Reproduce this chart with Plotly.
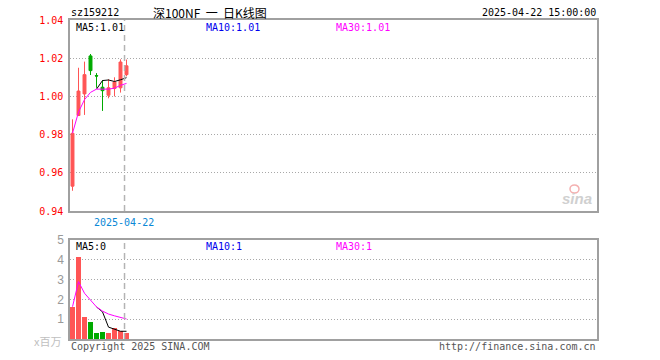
import plotly.graph_objects as go

# ---- data ----
idx = list(range(10))
opens  = [0.9530, 0.9900, 1.0013, 1.0212, 1.01085, 1.0048, 1.0006, 1.0041, 1.0045, 1.0114]
highs  = [0.9880, 1.0150, 1.0182, 1.0222, 1.0122, 1.0085, 1.0090, 1.0100, 1.0194, 1.0193]
lows   = [0.9506, 0.9897, 0.9903, 1.0112, 1.0045, 0.9924, 0.9990, 1.0000, 1.0020, 1.0105]
closes = [0.9807, 1.0028, 1.0114, 1.0135, 1.0107, 1.0030, 1.0045, 1.0075, 1.0180, 1.0160]
ma5  = [None, None, None, None, 1.0038, 1.0083, 1.0086, 1.0078, 1.0087, 1.0098]
ma10 = [None, None, None, None, None, None, None, None, None, 1.0068]
ma30 = [0.9807, 0.9918, 0.9983, 1.0021, 1.0038, 1.0037, 1.0038, 1.0043, 1.0058, 1.0068]

volumes = [1.63, 4.16, 1.13, 0.87, 0.32, 0.37, 0.32, 0.56, 0.40, 0.32]
vol_ma5  = [None, None, None, None, 1.62, 1.37, 0.60, 0.49, 0.39, 0.39]
vol_ma10 = [None, None, None, None, None, None, None, None, None, 1.01]
vol_ma30 = [1.63, 2.90, 2.31, 1.95, 1.62, 1.41, 1.26, 1.17, 1.08, 1.01]

price_ticks = [0.94, 0.96, 0.98, 1.00, 1.02, 1.04]
price_labels = ["0.94", "0.96", "0.98", "1.00", "1.02", "1.04"]
vol_ticks = [1, 2, 3, 4, 5]
vol_labels = ["1", "2", "3", "4", "5"]
date_marker = 8.67
date_label = "2025-04-22"

RED = "#ff5555"
GREEN = "#00aa00"
MONO = "DejaVu Sans Mono"

W, H = 660, 360
L, R, T, B = 70, 597, 20, 339
def px(x):
    return (x - L) / (R - L)
def py(y):
    return (B - y) / (B - T)

fig = go.Figure()

fig.add_trace(go.Candlestick(
    x=idx, open=opens, high=highs, low=lows, close=closes,
    increasing=dict(line=dict(color=RED, width=1), fillcolor=RED),
    decreasing=dict(line=dict(color=GREEN, width=1), fillcolor=GREEN),
    xaxis="x", yaxis="y", showlegend=False, hoverinfo="skip"))
fig.add_trace(go.Scatter(x=idx, y=ma5, mode="lines", line=dict(color="black", width=1),
                         xaxis="x", yaxis="y", showlegend=False))
fig.add_trace(go.Scatter(x=idx, y=ma10, mode="lines", line=dict(color="#0000ee", width=1),
                         xaxis="x", yaxis="y", showlegend=False))
fig.add_trace(go.Scatter(x=idx, y=ma30, mode="lines", line=dict(color="#ff00ff", width=1),
                         xaxis="x", yaxis="y", showlegend=False))

bar_colors = [RED if c > o else GREEN for o, c in zip(opens, closes)]
fig.add_trace(go.Bar(x=idx, y=volumes, width=0.83, marker=dict(color=bar_colors, line=dict(width=0)),
                     xaxis="x2", yaxis="y2", showlegend=False))
fig.add_trace(go.Scatter(x=idx, y=vol_ma5, mode="lines", line=dict(color="black", width=1),
                         xaxis="x2", yaxis="y2", showlegend=False))
fig.add_trace(go.Scatter(x=idx, y=vol_ma10, mode="lines", line=dict(color="#0000ee", width=1),
                         xaxis="x2", yaxis="y2", showlegend=False))
fig.add_trace(go.Scatter(x=idx, y=vol_ma30, mode="lines", line=dict(color="#ff00ff", width=1),
                         xaxis="x2", yaxis="y2", showlegend=False))

xr = [-0.4167, 87.42]
main_dom = [py(211), 1.0]
vol_dom = [0.0, py(240)]
frame = dict(showline=True, mirror=True, linecolor="#a0a0a0", linewidth=1.5)
grid = dict(showgrid=True, gridcolor="#a8a8a8", griddash="1px,2px", gridwidth=1)

fig.update_layout(
    width=W, height=H,
    margin=dict(l=L, r=W - R, t=T, b=H - B, pad=0),
    paper_bgcolor="white", plot_bgcolor="white",
    bargap=0,
    xaxis=dict(domain=[0, 1], range=xr, anchor="y", showticklabels=False, showgrid=False,
               zeroline=False, rangeslider=dict(visible=False), fixedrange=True, **frame),
    yaxis=dict(domain=main_dom, range=[0.94, 1.04], anchor="x", tickvals=price_ticks,
               ticktext=price_labels, tickfont=dict(family=MONO, size=10, color="#ff0000"),
               zeroline=False, ticks="", ticklabelstandoff=3, **grid, **frame),
    xaxis2=dict(domain=[0, 1], range=xr, anchor="y2", matches="x", showticklabels=False,
                showgrid=False, zeroline=False, **frame),
    yaxis2=dict(domain=vol_dom, range=[0, 5], anchor="x2", tickvals=vol_ticks, ticktext=vol_labels,
                tickfont=dict(family="Liberation Sans", size=12, color="#999999"),
                zeroline=False, ticks="", ticklabelstandoff=2, **grid, **frame),
)

# vertical dashed date marker in both panels
for xref, yref in (("x", "y domain"), ("x2", "y2 domain")):
    fig.add_shape(type="line", xref=xref, yref=yref,
                  x0=date_marker, x1=date_marker, y0=0, y1=1,
                  line=dict(color="#b4b4b4", width=1.5, dash="6px,4px"), layer="above")

def txt(text, x, y, xanchor="left", color="black", size=10, family=MONO, **kw):
    fig.add_annotation(text=text, x=px(x), y=py(y), xref="paper", yref="paper",
                       xanchor=xanchor, yanchor="middle", showarrow=False,
                       font=dict(family=family, size=size, color=color), **kw)

NB = "\u00a0"
txt("sz159212", 69, 12.5)
txt("深100NF" + NB * 2 + "一" + NB * 2 + "日K线图", 210, 12.5, xanchor="center", size=12,
    family="Noto Sans CJK SC")
txt("2025-04-22 15:00:00", 598, 12.5, xanchor="right")
txt("MA5:1.01", 74, 27)
txt("MA10:1.01", 204, 27, color="#0000ee")
txt("MA30:1.01", 334, 27, color="#ff00ff")
txt(date_label, 124, 222, xanchor="center", color="#0a88d6")
txt("MA5:0", 74, 246.5)
txt("MA10:1", 204, 246.5, color="#0000ee")
txt("MA30:1", 334, 246.5, color="#ff00ff")
txt("x百万", 63, 341, xanchor="right", color="#c0c0c0", size=11, family="Noto Sans CJK SC")
txt("Copyright 2025 SINA.COM", 69, 346, color="#555555")
txt("http://finance.sina.com.cn", 598, 347, xanchor="right", color="#555555")
txt("<b><i>sina</i></b>", 577, 199, xanchor="center", color="#d0d0d0", size=15,
    family="Liberation Sans")
fig.add_shape(type="circle", xref="paper", yref="paper",
              x0=px(570), x1=px(579), y0=py(193), y1=py(185),
              line=dict(color="#f4b0b0", width=1.5), fillcolor="rgba(0,0,0,0)")

fig.write_html("out.html", config={"displayModeBar": False},
               post_script="document.body.style.margin='0px';")
